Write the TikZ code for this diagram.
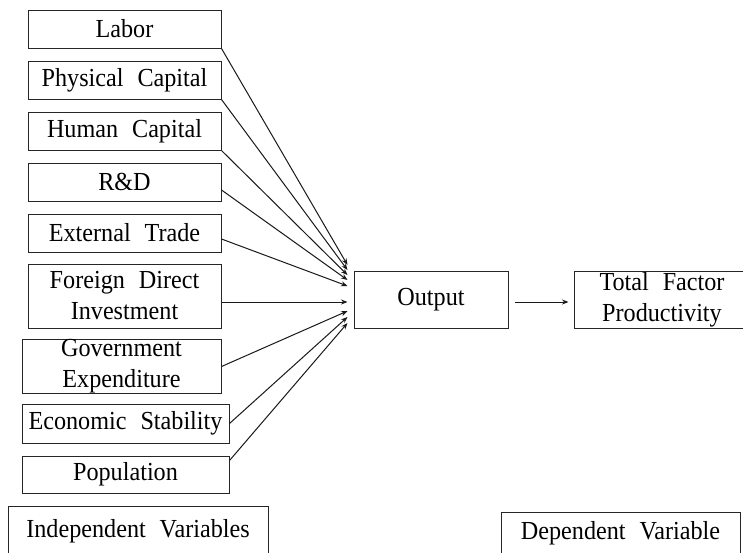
\documentclass[tikz,border=0pt]{standalone}
\usepackage{fontspec}
\setmainfont{Liberation Serif}[WordSpace=2.3, FakeStretch=0.93]
\usetikzlibrary{arrows.meta}
\begin{document}
\begin{tikzpicture}[x=1pt,y=-1pt,
  box/.style={draw=black!85, line width=1pt, inner sep=0pt, align=center,
    font=\fontsize{26}{31}\selectfont},
  conn/.style={draw=black!90, line width=1pt, -{Stealth[length=6.5pt,width=5pt]}}]
\clip (0,0) rectangle (743,552);
\node[box, minimum width=193pt, minimum height=38pt] (lab) at (124.5,29) {Labor};
\node[box, minimum width=193pt, minimum height=38pt] (phy) at (124.5,80) {Physical Capital};
\node[box, minimum width=193pt, minimum height=38pt] (hum) at (124.5,131) {Human Capital};
\node[box, minimum width=193pt, minimum height=38pt] (rd) at (124.5,182) {R\&D};
\node[box, minimum width=193pt, minimum height=38pt] (ext) at (124.5,233) {External Trade};
\node[box, minimum width=193pt, minimum height=64pt] (fdi) at (124.5,296) {Foreign Direct\\Investment};
\node[box, minimum width=199pt, minimum height=51pt] (gov) at (121.5,366.5) {Government\\Expenditure};
\node[box, minimum width=207pt, minimum height=39pt] (eco) at (125.5,423.5) {Economic Stability};
\node[box, minimum width=207pt, minimum height=37pt] (pop) at (125.5,474.5) {Population};
\node[box, minimum width=260pt, minimum height=50pt] (ind) at (138,531) {Independent Variables};
\node[box, minimum width=154pt, minimum height=57pt] (out) at (431,299.5) {Output};
\node[box, minimum width=176pt, minimum height=57pt] (tfp) at (662,299.5) {Total Factor\\Productivity};
\node[box, minimum width=239pt, minimum height=42pt] (dep) at (620.5,533) {Dependent Variable};
\draw[conn] (lab.south east) -- ([xshift=-6pt,yshift=34.5pt]out.west);
\draw[conn] (phy.south east) -- ([xshift=-6pt,yshift=29.5pt]out.west);
\draw[conn] (hum.south east) -- ([xshift=-6pt,yshift=24.5pt]out.west);
\draw[conn] ([yshift=-8pt]rd.east) -- ([xshift=-6pt,yshift=19.5pt]out.west);
\draw[conn] ([yshift=-6pt]ext.east) -- ([xshift=-6pt,yshift=13.5pt]out.west);
\draw[conn] ([yshift=-6pt]fdi.east) -- ([xshift=-6pt,yshift=-6pt]fdi.east -| out.west);
\draw[conn] (gov.east) -- ([xshift=-6pt,yshift=-11.5pt]out.west);
\draw[conn] (eco.east) -- ([xshift=-6pt,yshift=-17.5pt]out.west);
\draw[conn] ([yshift=14pt]pop.east) -- ([xshift=-6pt,yshift=-23.5pt]out.west);
\draw[conn] ([xshift=6pt,yshift=-2.5pt]out.east) -- ([xshift=-5pt,yshift=-2.5pt]tfp.west);
\end{tikzpicture}
\end{document}
